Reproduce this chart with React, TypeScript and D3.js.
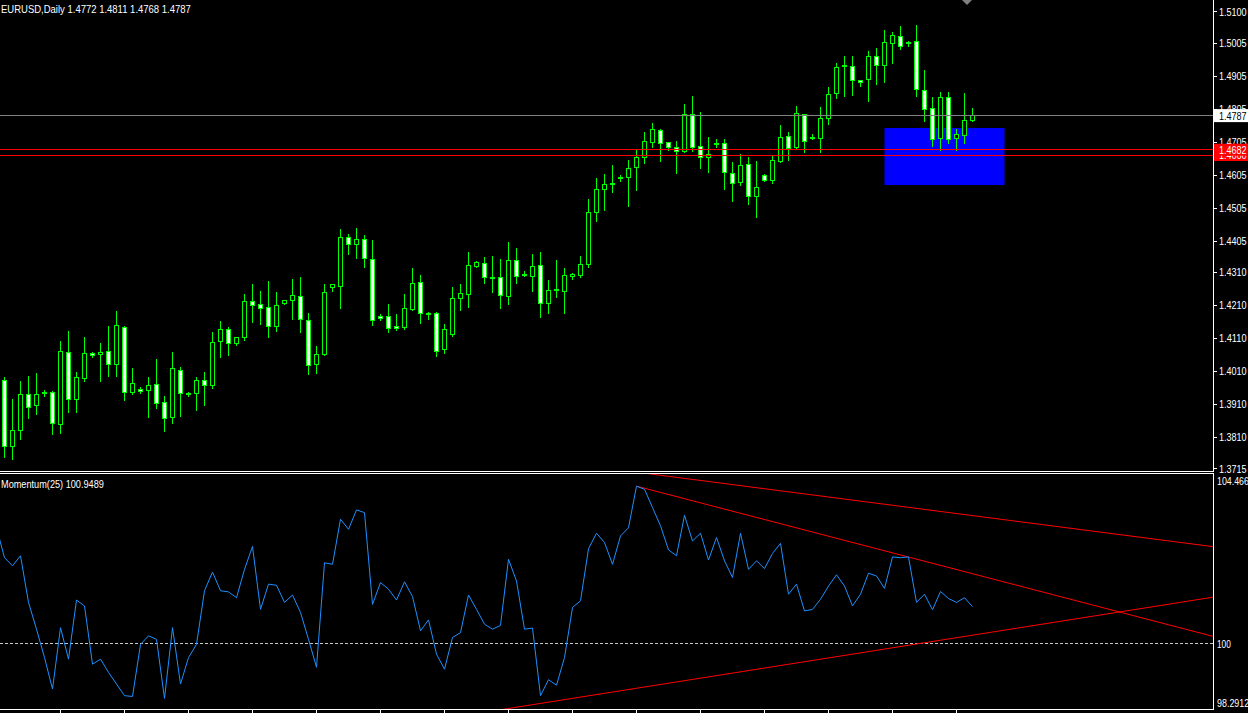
import React from 'react';
import * as d3 from 'd3';

const symbolTitle = 'EURUSD,Daily  1.4772 1.4811 1.4768 1.4787';
const indicatorTitle = 'Momentum(25) 100.9489';

// Daily candles, bar 0 = leftmost visible
const opens = [
  1.3983, 1.3782, 1.3831, 1.3941, 1.3906, 1.3946, 1.3946, 1.3849, 1.4068, 1.3924,
  1.3988, 1.4065, 1.4061, 1.4071, 1.4030, 1.4144, 1.3946, 1.3956, 1.3952, 1.3971,
  1.3916, 1.3870, 1.4013, 1.3943, 1.3943, 1.3983, 1.3967, 1.4100, 1.4137, 1.4094,
  1.4113, 1.4222, 1.4213, 1.4204, 1.4146, 1.4216, 1.4224, 1.4238, 1.4165, 1.4030,
  1.4061, 1.4264, 1.4268, 1.4416, 1.4394, 1.4410, 1.4350, 1.4177, 1.4177, 1.4147,
  1.4143, 1.4199, 1.4280, 1.4186, 1.4186, 1.4075, 1.4123, 1.4230, 1.4243, 1.4328,
  1.4338, 1.4295, 1.4295, 1.4237, 1.4347, 1.4305, 1.4297, 1.4332, 1.4215, 1.4257,
  1.4252, 1.4298, 1.4300, 1.4333, 1.4491, 1.4561, 1.4580, 1.4599, 1.4597, 1.4627,
  1.4660, 1.4703, 1.4741, 1.4704, 1.4689, 1.4676, 1.4789, 1.4692, 1.4659, 1.4700,
  1.4701, 1.4610, 1.4582, 1.4637, 1.4540, 1.4604, 1.4589, 1.4646, 1.4722, 1.4689,
  1.4789, 1.4718, 1.4715, 1.4776, 1.4852, 1.4936, 1.4934, 1.4892, 1.4895, 1.4965,
  1.4936, 1.5003, 1.5025, 1.5006, 1.5010, 1.4862, 1.4807, 1.4716, 1.4841, 1.4716,
  1.4725, 1.4772,
];
const highs = [
  1.3996, 1.3929, 1.3981, 1.3999, 1.4008, 1.3954, 1.3951, 1.4105, 1.4135, 1.4011,
  1.4117, 1.4069, 1.4099, 1.4148, 1.4196, 1.4150, 1.4023, 1.3964, 1.3993, 1.4048,
  1.3936, 1.4069, 1.4026, 1.3948, 1.3996, 1.4011, 1.4132, 1.4163, 1.4145, 1.4117,
  1.4245, 1.4275, 1.4254, 1.4287, 1.4251, 1.4226, 1.4293, 1.4299, 1.4190, 1.4090,
  1.4275, 1.4277, 1.4442, 1.4429, 1.4445, 1.4425, 1.4411, 1.4186, 1.4217, 1.4184,
  1.4245, 1.4326, 1.4305, 1.4193, 1.4193, 1.4154, 1.4266, 1.4275, 1.4375, 1.4345,
  1.4357, 1.4360, 1.4351, 1.4405, 1.4387, 1.4317, 1.4366, 1.4375, 1.4290, 1.4348,
  1.4326, 1.4311, 1.4360, 1.4533, 1.4599, 1.4611, 1.4636, 1.4607, 1.4651, 1.4684,
  1.4736, 1.4766, 1.4746, 1.4704, 1.4711, 1.4823, 1.4845, 1.4798, 1.4723, 1.4716,
  1.4716, 1.4645, 1.4672, 1.4663, 1.4649, 1.4611, 1.4669, 1.4760, 1.4736, 1.4817,
  1.4793, 1.4732, 1.4814, 1.4875, 1.4948, 1.4969, 1.4969, 1.4896, 1.4982, 1.4993,
  1.5048, 1.5039, 1.5060, 1.5012, 1.5063, 1.4926, 1.4842, 1.4860, 1.4860, 1.4745,
  1.4855, 1.4811,
];
const lows = [
  1.3748, 1.3743, 1.3802, 1.3866, 1.3878, 1.3933, 1.3820, 1.3823, 1.3884, 1.3884,
  1.3979, 1.4052, 1.3978, 1.3993, 1.3993, 1.3923, 1.3939, 1.3944, 1.3870, 1.3896,
  1.3827, 1.3852, 1.3873, 1.3933, 1.3890, 1.3906, 1.3958, 1.4052, 1.4058, 1.4088,
  1.4103, 1.4158, 1.4151, 1.4114, 1.4130, 1.4212, 1.4167, 1.4127, 1.4000, 1.4003,
  1.4057, 1.4252, 1.4200, 1.4364, 1.4352, 1.4324, 1.4150, 1.4164, 1.4128, 1.4134,
  1.4136, 1.4196, 1.4154, 1.4168, 1.4054, 1.4063, 1.4115, 1.4196, 1.4205, 1.4326,
  1.4276, 1.4249, 1.4202, 1.4214, 1.4276, 1.4297, 1.4251, 1.4172, 1.4184, 1.4233,
  1.4187, 1.4290, 1.4294, 1.4324, 1.4464, 1.4499, 1.4552, 1.4587, 1.4511, 1.4557,
  1.4639, 1.4688, 1.4646, 1.4681, 1.4609, 1.4673, 1.4676, 1.4624, 1.4613, 1.4688,
  1.4561, 1.4524, 1.4573, 1.4515, 1.4476, 1.4585, 1.4579, 1.4643, 1.4649, 1.4682,
  1.4673, 1.4712, 1.4673, 1.4760, 1.4836, 1.4842, 1.4846, 1.4873, 1.4827, 1.4881,
  1.4885, 1.4943, 1.4985, 1.4994, 1.4842, 1.4767, 1.4691, 1.4681, 1.4700, 1.4681,
  1.4700, 1.4768,
];
const closes = [
  1.3782, 1.3831, 1.3941, 1.3900, 1.3941, 1.3946, 1.3853, 1.4071, 1.3924, 1.3992,
  1.4065, 1.4058, 1.4068, 1.4030, 1.4150, 1.3946, 1.3974, 1.3949, 1.3968, 1.3912,
  1.3867, 1.4019, 1.3943, 1.3943, 1.3983, 1.3968, 1.4098, 1.4137, 1.4094, 1.4113,
  1.4222, 1.4210, 1.4200, 1.4147, 1.4210, 1.4225, 1.4241, 1.4167, 1.4027, 1.4062,
  1.4250, 1.4272, 1.4416, 1.4394, 1.4410, 1.4352, 1.4164, 1.4170, 1.4140, 1.4140,
  1.4201, 1.4277, 1.4186, 1.4186, 1.4069, 1.4136, 1.4232, 1.4245, 1.4332, 1.4341,
  1.4294, 1.4295, 1.4240, 1.4347, 1.4297, 1.4305, 1.4329, 1.4215, 1.4256, 1.4257,
  1.4301, 1.4305, 1.4335, 1.4492, 1.4562, 1.4577, 1.4580, 1.4599, 1.4625, 1.4659,
  1.4707, 1.4744, 1.4701, 1.4689, 1.4677, 1.4789, 1.4689, 1.4659, 1.4668, 1.4700,
  1.4613, 1.4580, 1.4634, 1.4540, 1.4568, 1.4589, 1.4648, 1.4719, 1.4686, 1.4792,
  1.4707, 1.4718, 1.4777, 1.4850, 1.4931, 1.4936, 1.4891, 1.4885, 1.4965, 1.4936,
  1.5007, 1.5028, 1.4995, 1.5006, 1.4865, 1.4804, 1.4713, 1.4841, 1.4713, 1.4728,
  1.4771, 1.4787,
];

// Momentum(25), first value belongs to bar -1 (just left of the view)
const momentumStartBar = -1;
const momentum = [
  102.98, 102.21, 102.00, 102.26, 101.06, 100.37, 99.64, 98.83, 100.41, 99.60,
  101.12, 100.97, 99.47, 99.60, 99.26, 98.96, 98.66, 98.64, 99.98, 100.20,
  100.11, 98.59, 100.41, 98.96, 99.64, 99.98, 101.36, 101.84, 101.36, 101.33,
  101.18, 101.91, 102.50, 100.88, 101.53, 101.50, 101.06, 101.25, 100.80, 100.11,
  99.39, 102.08, 102.04, 103.20, 102.94, 103.44, 103.37, 101.01, 101.57, 101.40,
  101.12, 101.59, 101.21, 100.33, 100.61, 99.73, 99.34, 100.16, 100.28, 101.25,
  100.88, 100.50, 100.37, 100.47, 102.17, 101.61, 100.37, 100.40, 98.66, 99.07,
  98.93, 99.64, 100.93, 101.10, 102.44, 102.84, 102.60, 102.04, 102.77, 102.98,
  104.05, 103.97, 103.50, 103.03, 102.41, 102.26, 103.30, 102.64, 102.84, 102.15,
  102.73, 102.13, 101.70, 102.84, 101.91, 102.13, 101.93, 102.32, 102.58, 101.27,
  101.53, 100.84, 100.88, 101.14, 101.48, 101.77, 101.48, 100.97, 101.27, 101.81,
  101.74, 101.42, 102.23, 102.21, 102.23, 101.06, 101.27, 100.87, 101.34, 101.16,
  101.06, 101.18, 100.9489,
];

const priceTicks = [1.51, 1.5005, 1.4905, 1.4805, 1.4705, 1.4605, 1.4505, 1.4405, 1.431, 1.421, 1.411, 1.401, 1.391, 1.381, 1.3715];
const priceTickLabels = ['1.5100', '1.5005', '1.4905', '1.4805', '1.4705', '1.4605', '1.4505', '1.4405', '1.4310', '1.4210', '1.4110', '1.4010', '1.3910', '1.3810', '1.3715'];
const momentumTicks = [104.4663, 100, 98.2912];
const momentumTickLabels = ['104.4663', '100', '98.2912'];
const momentumLevel = 100;

const bidPrice = 1.4787;
const bidLabel = '1.4787';
const redLevels = [1.4666, 1.4682];
const redLevelLabels = ['1.4666', '1.4682'];
const zoneBars = [110, 125];
const zonePrices = [1.4748, 1.4575];
const trendLines = [
  { bar1: 79, v1: 104.41, bar2: 124.5, v2: 103.2 },
  { bar1: 79, v1: 104.05, bar2: 124.5, v2: 101.61 },
  { bar1: 60, v1: 98.233, bar2: 124.5, v2: 100.33 },
];
const timeTickBars = [7, 15, 23, 31, 39, 47, 55, 63, 71, 79, 87, 95, 103, 111, 119];

const FONT = "'Liberation Sans', Arial, sans-serif";
const LIME = '#00ff00';

// text with a fixed advance width per character, to mimic the narrow terminal font
function NarrowText(props: { x: number; y: number; text: string; fill: string; perChar: number }) {
  const { x, y, text, fill, perChar } = props;
  return (
    <text
      x={x}
      y={y}
      fill={fill}
      fontFamily={FONT}
      fontSize={11}
      textLength={text.length * perChar}
      lengthAdjust="spacingAndGlyphs"
    >
      {text}
    </text>
  );
}

export default function App() {
  const W = 1248;
  const H = 713;
  const plotRight = 1213;
  const mainBottom = 471;
  const indTop = 473;
  const indBottom = 709;

  const x = d3.scaleLinear().domain([0, 1]).range([4.5, 12.5]);
  const yP = d3.scaleLinear().domain([1.3708, 1.5136]).range([471, 0]);
  const yM = d3.scaleLinear().domain([98.2912, 104.4663]).range([710, 470]);
  const snap = (v: number) => Math.floor(v) + 0.5;

  const candles = opens.map((o, i) => ({ i, o, h: highs[i], l: lows[i], c: closes[i] }));

  const momLine = d3
    .line<number>()
    .x((_, k) => x(k + momentumStartBar))
    .y((v) => yM(v));

  const rightBar = x.invert(plotRight);
  const axisChar = 4.6;

  return (
    <svg width={W} height={H} style={{ display: 'block', position: 'absolute', left: 0, top: 0, background: '#000' }}>
      <defs>
        <clipPath id="mainClip">
          <rect x={0} y={0} width={plotRight} height={mainBottom} />
        </clipPath>
        <clipPath id="indClip">
          <rect x={0} y={indTop + 1} width={plotRight} height={indBottom - indTop - 1} />
        </clipPath>
      </defs>
      <rect x={0} y={0} width={W} height={H} fill="#000" />

      {/* main price window */}
      <g clipPath="url(#mainClip)">
        <rect
          x={x(zoneBars[0])}
          y={yP(zonePrices[0])}
          width={x(zoneBars[1]) - x(zoneBars[0])}
          height={yP(zonePrices[1]) - yP(zonePrices[0])}
          fill="#0000ff"
        />
        {candles.map((d) => {
          const px = Math.floor(x(d.i));
          const yo = Math.floor(yP(d.o));
          const yc = Math.floor(yP(d.c));
          const top = Math.min(yo, yc);
          const bot = Math.max(yo, yc);
          const bull = d.c > d.o;
          return (
            <g key={d.i} shapeRendering="crispEdges">
              <line x1={px + 0.5} x2={px + 0.5} y1={snap(yP(d.h))} y2={snap(yP(d.l)) + 0.5} stroke={LIME} strokeWidth={1} />
              {bot - top < 1 ? (
                <rect x={px - 1.5} y={top + 0.5} width={4} height={1} fill={LIME} stroke={LIME} strokeWidth={1} />
              ) : (
                <rect x={px - 1.5} y={top + 0.5} width={4} height={bot - top} fill={bull ? '#000' : '#fff'} stroke={LIME} strokeWidth={1} />
              )}
            </g>
          );
        })}
        <rect x={0} y={Math.floor(yP(bidPrice))} width={plotRight} height={1} fill="#808080" />
        {redLevels.map((p, k) => (
          <rect key={k} x={0} y={Math.floor(yP(p))} width={plotRight} height={1} fill="#ff0000" />
        ))}
      </g>
      <polygon points="962,0 972,0 967,5" fill="#808080" />

      <NarrowText x={1} y={12.5} text={symbolTitle} fill="#fff" perChar={4.63} />

      {/* price axis */}
      {priceTicks.map((p, k) => (
        <g key={k}>
          <line x1={plotRight} x2={plotRight + 4} y1={snap(yP(p))} y2={snap(yP(p))} stroke="#fff" shapeRendering="crispEdges" />
          <NarrowText x={1219} y={yP(p) + 4} text={priceTickLabels[k]} fill="#fff" perChar={axisChar} />
        </g>
      ))}
      <rect x={plotRight + 1} y={yP(bidPrice) - 6} width={W - plotRight} height={13} fill="#fff" />
      <NarrowText x={1219} y={yP(bidPrice) + 4.5} text={bidLabel} fill="#000" perChar={axisChar} />
      {redLevels.map((p, k) => (
        <g key={k}>
          <rect x={plotRight + 1} y={yP(p) - 6} width={W - plotRight} height={12} fill="#ff0000" />
          <NarrowText x={1219} y={yP(p) + 4} text={redLevelLabels[k]} fill="#fff" perChar={axisChar} />
        </g>
      ))}

      {/* indicator window */}
      <g clipPath="url(#indClip)">
        <line
          x1={0}
          x2={plotRight}
          y1={snap(yM(momentumLevel))}
          y2={snap(yM(momentumLevel))}
          stroke="#c8c8c8"
          strokeWidth={1}
          strokeDasharray="3,2"
          shapeRendering="crispEdges"
        />
        {trendLines.map((t, k) => {
          const slope = (t.v2 - t.v1) / (t.bar2 - t.bar1);
          const vEnd = t.v1 + slope * (rightBar - t.bar1);
          return <line key={k} x1={x(t.bar1)} y1={yM(t.v1)} x2={x(rightBar)} y2={yM(vEnd)} stroke="#ff0000" strokeWidth={1} />;
        })}
        <path d={momLine(momentum) || ''} fill="none" stroke="#1e90ff" strokeWidth={1} />
      </g>
      <NarrowText x={1} y={488} text={indicatorTitle} fill="#fff" perChar={4.9} />
      {momentumTicks.map((v, k) => {
        const yy = Math.max(481, Math.min(703, yM(v)));
        return <NarrowText key={k} x={1217} y={yy + 4} text={momentumTickLabels[k]} fill="#fff" perChar={axisChar} />;
      })}

      {/* frames */}
      <g shapeRendering="crispEdges">
        <line x1={0} x2={plotRight + 1} y1={mainBottom + 0.5} y2={mainBottom + 0.5} stroke="#fff" />
        <line x1={0} x2={plotRight + 1} y1={indTop + 0.5} y2={indTop + 0.5} stroke="#fff" />
        <line x1={0} x2={plotRight + 1} y1={indBottom + 0.5} y2={indBottom + 0.5} stroke="#fff" />
        <line x1={plotRight + 0.5} x2={plotRight + 0.5} y1={0} y2={mainBottom + 1} stroke="#fff" />
        <line x1={plotRight + 0.5} x2={plotRight + 0.5} y1={indTop} y2={indBottom + 1} stroke="#fff" />
        {timeTickBars.map((b) => (
          <line key={b} x1={Math.floor(x(b)) + 0.5} x2={Math.floor(x(b)) + 0.5} y1={indBottom + 1} y2={H} stroke="#fff" />
        ))}
      </g>
    </svg>
  );
}
